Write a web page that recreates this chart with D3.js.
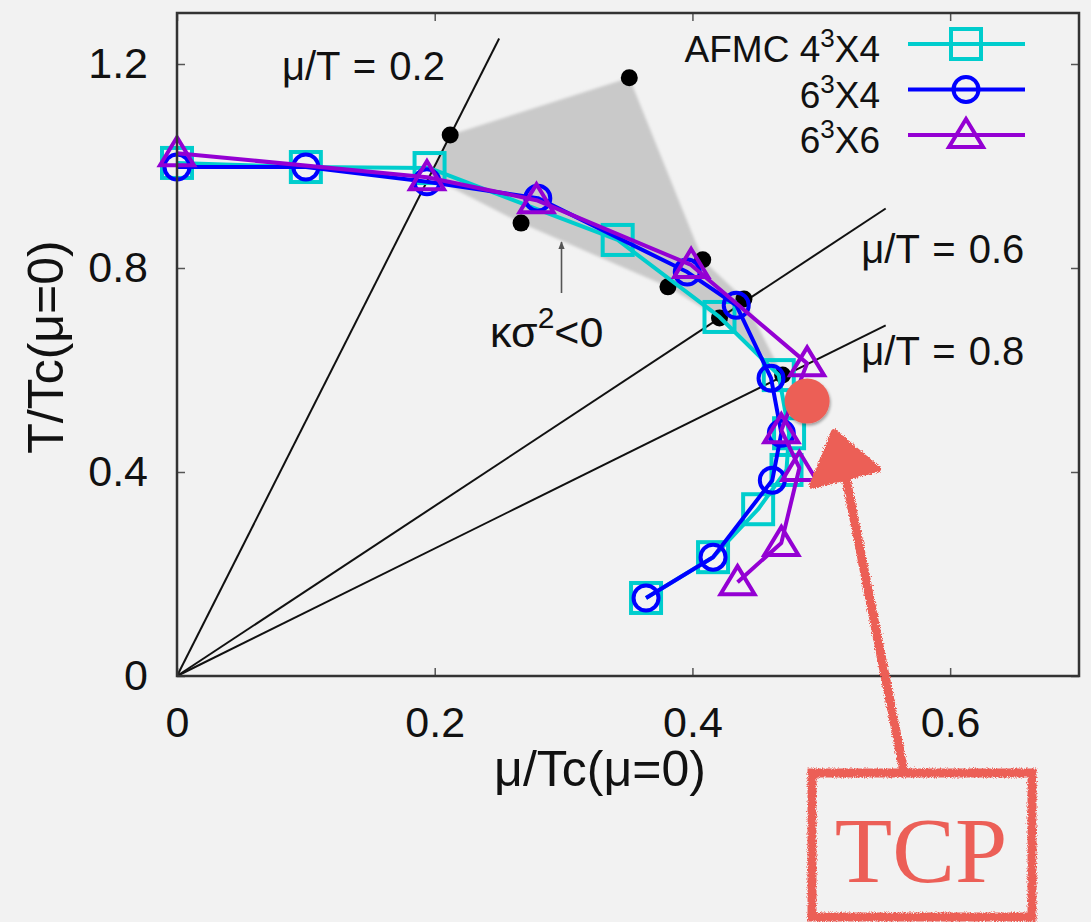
<!DOCTYPE html>
<html>
<head>
<meta charset="utf-8">
<script src="https://cdn.jsdelivr.net/npm/d3@7"></script>
<style>
  html, body { margin: 0; padding: 0; background: #f2f2f2; }
  svg { display: block; font-family: "Liberation Sans", Arial, sans-serif; }
</style>
</head>
<body>
<svg id="chart" width="1091" height="922"></svg>
<script>
// tick values
var xTicks = [0, 0.2, 0.4, 0.6];
var yTicks = [0, 0.4, 0.8, 1.2];

// AFMC 4^3X4 (cyan squares)
var muAFMC = [0, 0.1, 0.196, 0.342, 0.421, 0.467, 0.475, 0.473, 0.451, 0.416, 0.364];
var tAFMC  = [1.006, 0.998, 0.996, 0.855, 0.704, 0.590, 0.476, 0.404, 0.327, 0.233, 0.153];

// 6^3X4 (blue circles)
var mu6x4 = [0, 0.1, 0.194, 0.280, 0.396, 0.434, 0.461, 0.469, 0.462, 0.416, 0.364];
var t6x4  = [0.998, 0.998, 0.969, 0.937, 0.792, 0.727, 0.584, 0.476, 0.384, 0.233, 0.153];

// 6^3X6 (purple triangles)
var mu6x6 = [0, 0.194, 0.279, 0.399, 0.489, 0.469, 0.483, 0.469, 0.435];
var t6x6  = [1.025, 0.978, 0.933, 0.806, 0.613, 0.482, 0.408, 0.261, 0.184];

// black dots bounding the kappa sigma^2 < 0 region
var muKappaUpper = [0.196, 0.212, 0.351, 0.408, 0.440, 0.470];
var tKappaUpper  = [0.980, 1.061, 1.173, 0.816, 0.739, 0.590];
var muKappaLower = [0.421, 0.381, 0.267];
var tKappaLower  = [0.702, 0.763, 0.888];

// mu/T = const lines and where they stop
var ratios = [0.2, 0.6, 0.8];
var ratioEnds = [0.25, 0.55, 0.55];

// TCP point
var muTCP = 0.489;
var tTCP = 0.539;

var svg = d3.select("#chart");
var x = d3.scaleLinear().domain([0, 0.7]).range([177, 1079]);
var y = d3.scaleLinear().domain([0, 1.3]).range([676, 13]);

var cyan = "#00cdcd", blue = "#0000ff", purple = "#9400d3", red = "#ec5f57";

var defs = svg.append("defs");
defs.append("filter").attr("id", "soft")
  .append("feGaussianBlur").attr("stdDeviation", 1.5);
var rough = defs.append("filter").attr("id", "rough")
  .attr("x", "-20%").attr("y", "-20%").attr("width", "140%").attr("height", "140%");
rough.append("feTurbulence").attr("type", "fractalNoise")
  .attr("baseFrequency", 0.9).attr("numOctaves", 2).attr("result", "n");
rough.append("feDisplacementMap").attr("in", "SourceGraphic").attr("in2", "n")
  .attr("scale", 5).attr("xChannelSelector", "R").attr("yChannelSelector", "G");
var shadow = defs.append("filter").attr("id", "shadow");
shadow.append("feDropShadow").attr("dx", 1).attr("dy", 2)
  .attr("stdDeviation", 1.5).attr("flood-opacity", 0.35);
defs.append("marker").attr("id", "arrowHead")
  .attr("viewBox", "0 0 10 10").attr("refX", 9).attr("refY", 5)
  .attr("markerWidth", 5).attr("markerHeight", 5).attr("orient", "auto")
  .append("path").attr("d", "M0,1 L10,5 L0,9 z").attr("fill", "#555");

// shaded region
var poly = muKappaUpper.map((m, i) => [x(m), y(tKappaUpper[i])])
  .concat(muKappaLower.map((m, i) => [x(m), y(tKappaLower[i])]));
svg.append("polygon")
  .attr("points", poly.map(p => p.join(",")).join(" "))
  .attr("fill", "#c9c9c9")
  .attr("filter", "url(#soft)");

// mu/T lines from the origin
svg.selectAll(".ratio")
  .data(ratios)
  .enter()
  .append("line")
    .attr("x1", x(0)).attr("y1", y(0))
    .attr("x2", (d, i) => x(ratioEnds[i]))
    .attr("y2", (d, i) => y(ratioEnds[i] / d))
    .attr("stroke", "#111")
    .attr("stroke-width", 2);

// black dots (skip the first upper one, hidden under markers)
var dots = muKappaUpper.slice(1).map((m, i) => [m, tKappaUpper[i + 1]])
  .concat(muKappaLower.map((m, i) => [m, tKappaLower[i]]));
svg.selectAll(".kdot")
  .data(dots)
  .enter()
  .append("circle")
    .attr("cx", d => x(d[0]))
    .attr("cy", d => y(d[1]))
    .attr("r", 8.5)
    .attr("fill", "#000");

// arrow + label for kappa sigma^2
svg.append("line")
  .attr("x1", x(0.2984)).attr("y1", y(0.751))
  .attr("x2", x(0.2984)).attr("y2", y(0.851))
  .attr("stroke", "#555").attr("stroke-width", 1.6)
  .attr("marker-end", "url(#arrowHead)");
var kt = svg.append("text")
  .attr("x", x(0.243)).attr("y", y(0.646))
  .style("font-size", "43px").attr("fill", "#111");
kt.append("tspan").text("κσ");
kt.append("tspan").attr("dy", -19).style("font-size", "30px").text("2");
kt.append("tspan").attr("dy", 19).text("<0");

// labels for the mu/T lines
var ratioLabels = [
  { t: "μ/T = 0.2", mu: 0.0814, T: 1.169 },
  { t: "μ/T = 0.6", mu: 0.531, T: 0.81 },
  { t: "μ/T = 0.8", mu: 0.531, T: 0.61 }
];
svg.selectAll(".rlab")
  .data(ratioLabels)
  .enter()
  .append("text")
    .attr("x", d => x(d.mu))
    .attr("y", d => y(d.T))
    .style("font-size", "40px")
    .style("word-spacing", "2px")
    .attr("fill", "#111")
    .text(d => d.t);

// marker shapes
function drawMarker(g, kind, color) {
  if (kind == "square") {
    g.append("rect").attr("x", -15).attr("y", -15).attr("width", 30).attr("height", 30)
      .attr("fill", "none").attr("stroke", color).attr("stroke-width", 4);
  } else if (kind == "circle") {
    g.append("circle").attr("r", 12.5)
      .attr("fill", "none").attr("stroke", color).attr("stroke-width", 4);
  } else {
    g.append("path").attr("d", "M0,-16 L17,12 L-17,12 Z")
      .attr("fill", "none").attr("stroke", color).attr("stroke-width", 4)
      .attr("stroke-linejoin", "miter");
  }
}

var series = [
  { name: ["AFMC 4", "X4"], mu: muAFMC, t: tAFMC, color: cyan, kind: "square" },
  { name: ["6", "X4"], mu: mu6x4, t: t6x4, color: blue, kind: "circle" },
  { name: ["6", "X6"], mu: mu6x6, t: t6x6, color: purple, kind: "triangle" }
];

var line = d3.line().x(d => x(d[0])).y(d => y(d[1]));

series.forEach(function(s, k) {
  var pts = s.mu.map((m, i) => [m, s.t[i]]);
  svg.append("path")
    .attr("d", line(pts))
    .attr("fill", "none")
    .attr("stroke", s.color)
    .attr("stroke-width", 4)
    .attr("stroke-linejoin", "round");
  svg.selectAll(".pt" + k)
    .data(pts)
    .enter()
    .append("g")
      .attr("transform", d => "translate(" + x(d[0]) + "," + y(d[1]) + ")")
      .each(function() { drawMarker(d3.select(this), s.kind, s.color); });

  // legend row
  var ly = 44 + k * 45.5;
  var lt = svg.append("text")
    .attr("x", 880).attr("y", ly + 18)
    .attr("text-anchor", "end")
    .style("font-size", "37px")
    .attr("fill", "#111");
  lt.append("tspan").text(s.name[0]);
  lt.append("tspan").attr("dy", -15).style("font-size", "26px").text("3");
  lt.append("tspan").attr("dy", 15).text(s.name[1]);
  svg.append("line")
    .attr("x1", 908).attr("x2", 1025).attr("y1", ly).attr("y2", ly)
    .attr("stroke", s.color).attr("stroke-width", 4);
  drawMarker(svg.append("g").attr("transform", "translate(966," + ly + ")"), s.kind, s.color);
});

// axes (ticks pointing inward on all four sides)
var fmt = d => d === 0 ? "0" : d.toFixed(1);
function styleAxis(g) {
  g.select(".domain").remove();
  g.selectAll(".tick line").attr("stroke", "#555").attr("stroke-width", 1.5);
  g.selectAll("text").attr("fill", "#111").style("font-size", "43px")
    .style("font-family", "'Liberation Sans', Arial, sans-serif");
}
svg.append("g").attr("transform", "translate(0," + y(0) + ")")
  .call(d3.axisBottom(x).tickValues(xTicks).tickFormat(fmt).tickSize(-8).tickPadding(30))
  .call(styleAxis);
svg.append("g").attr("transform", "translate(" + x(0) + ",0)")
  .call(d3.axisLeft(y).tickValues(yTicks).tickFormat(fmt).tickSize(-8).tickPadding(29))
  .call(styleAxis);
svg.append("g").attr("transform", "translate(0," + y(1.3) + ")")
  .call(d3.axisTop(x).tickValues(xTicks).tickFormat("").tickSize(-8))
  .call(styleAxis);
svg.append("g").attr("transform", "translate(" + x(0.7) + ",0)")
  .call(d3.axisRight(y).tickValues(yTicks).tickFormat("").tickSize(-8))
  .call(styleAxis);

svg.append("rect")
  .attr("x", x(0)).attr("y", y(1.3))
  .attr("width", x(0.7) - x(0)).attr("height", y(0) - y(1.3))
  .attr("fill", "none").attr("stroke", "#333").attr("stroke-width", 2.5);

// axis titles
svg.append("text")
  .attr("x", 600).attr("y", 786)
  .attr("text-anchor", "middle")
  .style("font-size", "50px").attr("fill", "#111")
  .text("μ/Tc(μ=0)");
svg.append("text")
  .attr("transform", "translate(63,347) rotate(-90)")
  .attr("text-anchor", "middle")
  .style("font-size", "50px").attr("fill", "#111")
  .text("T/Tc(μ=0)");

// TCP annotation
svg.append("circle")
  .attr("cx", x(muTCP)).attr("cy", y(tTCP)).attr("r", 22.5)
  .attr("fill", red).attr("filter", "url(#shadow)");

var ann = svg.append("g").attr("filter", "url(#rough)");
ann.append("path")
  .attr("d", "M846,478 L904,772")
  .attr("stroke", red).attr("stroke-width", 9).attr("fill", "none");
ann.append("path")
  .attr("d", "M834,432 L878,469 L812,486 Z")
  .attr("fill", red).attr("stroke", red).attr("stroke-width", 6)
  .attr("stroke-linejoin", "round");
ann.append("rect")
  .attr("x", 812).attr("y", 773).attr("width", 220).attr("height", 144)
  .attr("fill", "none").attr("stroke", red).attr("stroke-width", 9);
svg.append("text")
  .attr("x", 921).attr("y", 882)
  .attr("text-anchor", "middle")
  .style("font-family", "'Liberation Serif', 'Times New Roman', serif")
  .style("font-size", "94px")
  .attr("fill", red)
  .text("TCP");
</script>
</body>
</html>
